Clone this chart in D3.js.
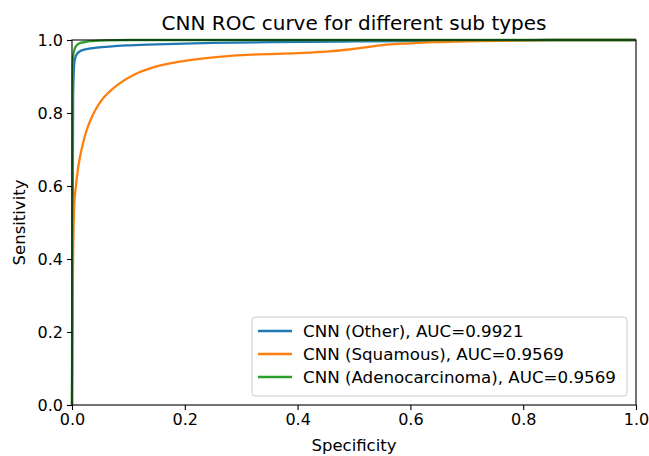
<!DOCTYPE html>
<html>
<head>
<meta charset="utf-8">
<script src="https://cdn.jsdelivr.net/npm/d3@7"></script>
<style>
	body{margin:0;background:#fff;}
	svg{font-family:'DejaVu Sans',sans-serif;}
</style>
</head>
<body>
<svg id="chart" width="649" height="456"></svg>
<script>
// values
const xTicks = [0, 0.2, 0.4, 0.6, 0.8, 1.0]
const yTicks = [0, 0.2, 0.4, 0.6, 0.8, 1.0]

const otherFpr = [0, 0.002, 0.004, 0.006, 0.009, 0.013, 0.02, 0.037, 0.06, 0.096, 0.15, 0.25, 0.35, 0.5, 0.7, 0.85, 1.0]
const otherTpr = [0, 0.85, 0.935, 0.952, 0.962, 0.968, 0.973, 0.978, 0.981, 0.985, 0.988, 0.992, 0.994, 0.996, 0.998, 1.0, 1.0]

const squamFpr = [0, 0.001, 0.002, 0.003, 0.004, 0.007, 0.01, 0.013, 0.017, 0.022, 0.028, 0.036, 0.05, 0.066, 0.085, 0.11, 0.144, 0.2, 0.26, 0.32, 0.4, 0.45, 0.49, 0.52, 0.55, 0.6, 0.64, 0.7, 0.76, 0.85, 1.0]
const squamTpr = [0, 0.25, 0.42, 0.5, 0.55, 0.6, 0.64, 0.67, 0.7, 0.732, 0.762, 0.792, 0.83, 0.858, 0.882, 0.905, 0.925, 0.943, 0.954, 0.96, 0.964, 0.968, 0.974, 0.98, 0.986, 0.991, 0.994, 0.996, 0.998, 1.0, 1.0]

const adenoFpr = [0, 0.001, 0.002, 0.004, 0.007, 0.01, 0.015, 0.025, 0.037, 0.06, 0.1, 1.0]
const adenoTpr = [0, 0.9, 0.955, 0.972, 0.983, 0.988, 0.992, 0.995, 0.997, 0.999, 1.0, 1.0]

const seriesNames = ['CNN (Other), AUC=0.9921', 'CNN (Squamous), AUC=0.9569', 'CNN (Adenocarcinoma), AUC=0.9569']
const seriesColors = ['#1f77b4', '#ff7f0e', '#2ca02c']

const series = [
	{fpr: otherFpr, tpr: otherTpr},
	{fpr: squamFpr, tpr: squamTpr},
	{fpr: adenoFpr, tpr: adenoTpr}
].map((s, i) => ({
	name: seriesNames[i],
	color: seriesColors[i],
	pts: s.fpr.map((f, j) => [f, s.tpr[j]])
}))

let margin = {top: 40, right: 13, bottom: 51, left: 72}
let width = 649 - margin.left - margin.right
let height = 456 - margin.top - margin.bottom

const xScale = d3.scaleLinear().domain([0, 1]).range([0, width])
const yScale = d3.scaleLinear().domain([0, 1]).range([height, 0])

const svg = d3.select('#chart')
const chart = svg.append('g').attr('transform', `translate(${margin.left},${margin.top})`)

const line = d3.line()
	.x(d => xScale(d[0]))
	.y(d => yScale(d[1]))
	.curve(d3.curveMonotoneX)

chart.selectAll('.roc')
	.data(series)
	.enter()
	.append('path')
	.classed('roc', true)
	.attr('d', d => line(d.pts))
	.attr('fill', 'none')
	.attr('stroke', d => d.color)
	.attr('stroke-width', 2.3)
	.attr('stroke-linejoin', 'round')

// axes
const axisX = chart.append('g')
	.attr('transform', `translate(0,${height})`)
	.call(d3.axisBottom(xScale).tickValues(xTicks).tickFormat(d3.format('.1f')).tickSizeOuter(0).tickSize(5).tickPadding(4))
const axisY = chart.append('g')
	.call(d3.axisLeft(yScale).tickValues(yTicks).tickFormat(d3.format('.1f')).tickSizeOuter(0).tickSize(5).tickPadding(4))

chart.selectAll('.domain').remove()
chart.selectAll('.tick line').attr('stroke', '#000').attr('stroke-width', 1.1)
chart.selectAll('.tick text').attr('font-size', 16).attr('font-family', 'DejaVu Sans').attr('fill', '#000')

// frame
chart.append('rect')
	.attr('width', width)
	.attr('height', height)
	.attr('fill', 'none')
	.attr('stroke', '#000')
	.attr('stroke-width', 1.1)

// labels
svg.append('text')
	.attr('x', margin.left + width / 2)
	.attr('y', 30)
	.attr('text-anchor', 'middle')
	.attr('font-size', 20)
	.text('CNN ROC curve for different sub types')

svg.append('text')
	.attr('x', margin.left + width / 2)
	.attr('y', 451)
	.attr('text-anchor', 'middle')
	.attr('font-size', 16.5)
	.text('Specificity')

svg.append('text')
	.attr('transform', `translate(25,${margin.top + height / 2}) rotate(-90)`)
	.attr('text-anchor', 'middle')
	.attr('font-size', 16.5)
	.text('Sensitivity')

// legend
const legend = chart.append('g').attr('transform', `translate(${252 - margin.left},${317 - margin.top})`)
legend.append('rect')
	.attr('width', 375)
	.attr('height', 79)
	.attr('rx', 3)
	.attr('fill', '#fff')
	.attr('fill-opacity', 0.8)
	.attr('stroke', '#ccc')
	.attr('stroke-width', 1)

const rows = legend.selectAll('.lrow')
	.data(series)
	.enter()
	.append('g')
	.attr('transform', (d, i) => `translate(0,${14 + i * 23})`)
rows.append('line')
	.attr('x1', 6).attr('x2', 40)
	.attr('stroke', d => d.color)
	.attr('stroke-width', 2.3)
rows.append('text')
	.attr('x', 51)
	.attr('y', 6)
	.attr('font-size', 16.7)
	.text(d => d.name)
</script>
</body>
</html>
